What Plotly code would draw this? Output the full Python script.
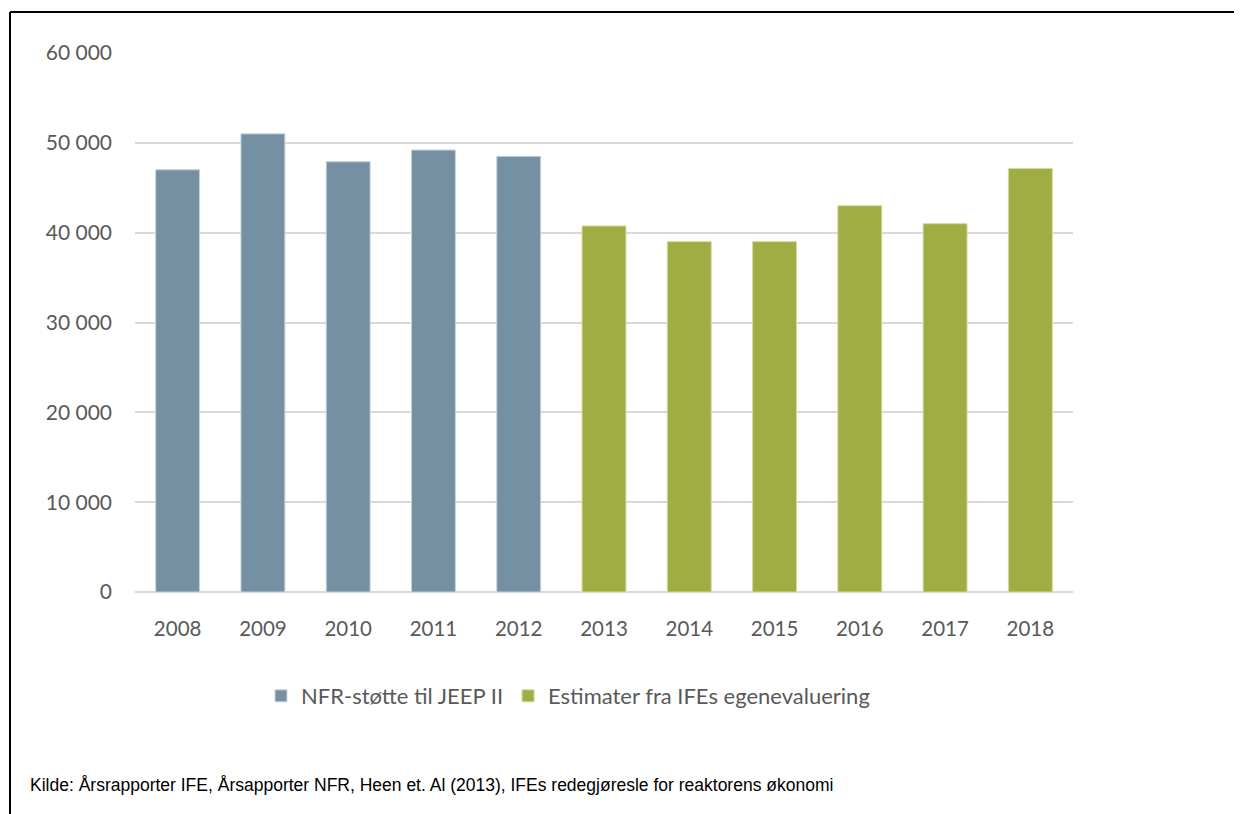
import plotly.graph_objects as go

years_nfr = ["2008", "2009", "2010", "2011", "2012"]
values_nfr = [47000, 51000, 47900, 49200, 48500]
years_ife = ["2013", "2014", "2015", "2016", "2017", "2018"]
values_ife = [40750, 39000, 39000, 43000, 41000, 47150]
all_years = years_nfr + years_ife
name_nfr = "NFR-støtte til JEEP II"
name_ife = "Estimater fra IFEs egenevaluering"
y_ticks = [0, 10000, 20000, 30000, 40000, 50000, 60000]
y_tick_text = ["0", "10 000", "20 000", "30 000", "40 000", "50 000", "60 000"]
source_text = "Kilde: Årsrapporter IFE, Årsapporter NFR, Heen et. Al (2013), IFEs redegjøresle for reaktorens økonomi"

# page has an 8px body margin; work in reference (screen) pixels and convert
OFF = 8
W, H = 1242 - OFF, 814 - OFF
L, R, T, B = 135 - OFF, 1073 - OFF, 53 - OFF, 592 - OFF
pw, ph = R - L, B - T

def px(x):
    return (x - OFF - L) / pw

def py(y):
    return (B - (y - OFF)) / ph

fig = go.Figure()
fig.add_trace(go.Bar(x=years_nfr, y=values_nfr, name=name_nfr,
                     marker=dict(color="#7590A2", line=dict(color="#C9D3DA", width=1))))
fig.add_trace(go.Bar(x=years_ife, y=values_ife, name=name_ife,
                     marker=dict(color="#A0AD42", line=dict(color="#D3DA9E", width=1))))

fig.update_layout(
    width=W, height=H,
    margin=dict(l=L, r=W - R, t=T, b=H - B, pad=0),
    paper_bgcolor="white", plot_bgcolor="white",
    barmode="overlay", bargap=0.485,
    font=dict(family="Lato, Open Sans, sans-serif", color="#595959", size=20),
    showlegend=True,
    legend=dict(orientation="h", x=px(568), xanchor="center", y=py(696), yanchor="middle",
                font=dict(size=22, color="#595959"), itemwidth=30, tracegroupgap=0,
                bgcolor="rgba(0,0,0,0)"),
    xaxis=dict(type="category", categoryorder="array", categoryarray=all_years,
               showgrid=False, showline=False, ticks="", ticklabelstandoff=22,
               tickfont=dict(size=20.5, color="#595959")),
    yaxis=dict(range=[0, 60000], tickvals=y_ticks, ticktext=y_tick_text,
               showgrid=True, gridcolor="#D9D9D9", gridwidth=1.5,
               zeroline=True, zerolinecolor="#D9D9D9", zerolinewidth=1.5,
               showline=False, ticks="", ticklabelstandoff=22,
               tickfont=dict(size=21, color="#595959")),
    shapes=[
        dict(type="line", xref="paper", yref="paper", x0=px(10), x1=px(10), y0=py(830), y1=py(12),
             line=dict(color="black", width=2)),
        dict(type="line", xref="paper", yref="paper", x0=px(10), x1=px(1260), y0=py(12), y1=py(12),
             line=dict(color="black", width=2)),
    ],
    annotations=[
        dict(text=source_text, xref="paper", yref="paper", x=px(28), y=py(785),
             xanchor="left", yanchor="middle", showarrow=False,
             font=dict(family="Liberation Sans, Arial, sans-serif", size=17.5, color="black")),
    ],
)

fig.write_html("out.html")
